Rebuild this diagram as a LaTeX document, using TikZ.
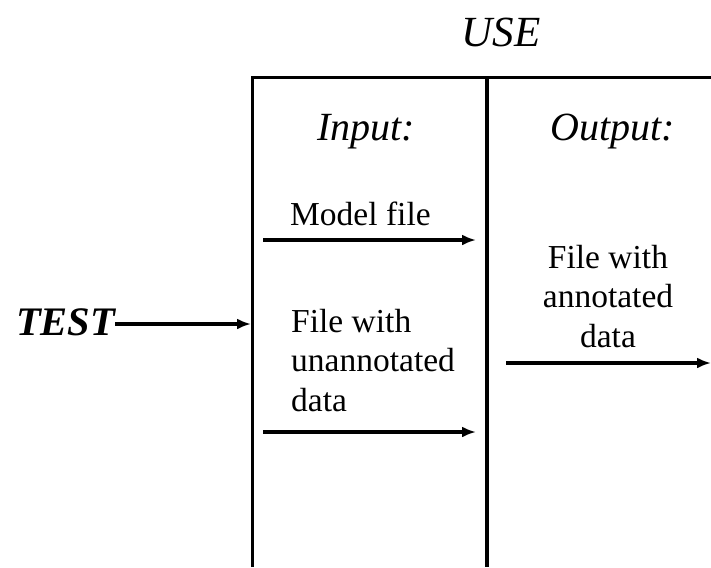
\documentclass[tikz,border=0pt]{standalone}
\usepackage{fontspec}
\setmainfont{Liberation Serif}
\usetikzlibrary{arrows.meta}

\tikzset{
  frame/.style={line width=3pt},
  divider/.style={line width=4.6pt},
  flow/.style={line width=3.2pt, -{Latex[length=14pt,width=11pt]}},
  heading/.style={font=\itshape\fontsize{40}{46}\selectfont, inner sep=0pt},
  body/.style={font=\fontsize{33.5}{39.5}\selectfont, inner sep=0pt},
}

\begin{document}
\begin{tikzpicture}[x=1pt,y=-1pt]
  \useasboundingbox (0,0) rectangle (711,567);

  % frame: top rule, left wall, middle divider
  \coordinate (tl) at (252,78);
  \coordinate (tr) at (711,78);
  \coordinate (bl) at (252,567);
  \coordinate (mt) at (487,78);
  \coordinate (mb) at (487,567);
  \draw[frame] (bl) -- (tl) -- (tr);
  \draw[divider] (mt) -- (mb);

  % titles
  \node[font=\itshape\fontsize{43}{50}\selectfont, inner sep=0pt, anchor=base] (use) at (501,47) {USE};
  \node[heading, anchor=base] (inlabel) at (366,140) {Input:};
  \node[heading, anchor=base] (outlabel) at (613,140) {Output:};

  % input side
  \node[body, anchor=base west] (model) at (290,225) {Model file};
  \coordinate (m1) at (263,240);
  \coordinate (m2) at (476,240);
  \draw[flow] (m1) -- (m2);

  \node[body, anchor=north west, align=left, text depth=0pt] (unann) at (291,309)
    {File with\\unannotated\\data};
  \coordinate (u1) at (263,432);
  \coordinate (u2) at (476,432);
  \draw[flow] (u1) -- (u2);

  % test entry
  \node[font=\bfseries\itshape\fontsize{40.5}{46}\selectfont, inner sep=0pt, anchor=base west] (test) at (16,335) {TEST};
  \coordinate (wall) at (251,324);
  \draw[flow] (test.east |- wall) -- (wall);

  % output side
  \node[body, anchor=north, align=center] (annot) at (608,245)
    {File with\\annotated\\data};
  \coordinate (o1) at (506,363);
  \coordinate (o2) at (711,363);
  \draw[flow] (o1) -- (o2);
\end{tikzpicture}
\end{document}
